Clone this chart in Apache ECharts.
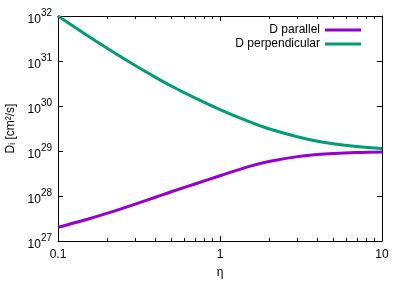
<!DOCTYPE html>
<html>
<head>
<meta charset="utf-8">
<script src="https://cdn.jsdelivr.net/npm/echarts@6/dist/echarts.min.js"></script>
<style>html,body{margin:0;padding:0;background:#fff;}#chart{width:407px;height:285px;}</style>
</head>
<body>
<div id="chart"></div>
<script>
const etaValues = [0.1, 0.15, 0.2, 0.3, 0.4, 0.5, 0.7, 1, 1.5, 2, 3, 4, 5, 7, 10];
const dParallel = [2.01e27, 3.01e27, 4.10e27, 6.61e27, 9.40e27, 1.24e28, 1.85e28, 2.82e28, 4.50e28, 5.83e28, 7.50e28, 8.38e28, 8.83e28, 9.25e28, 9.51e28];
const dPerpendicular = [1.0e32, 3.79e31, 1.95e31, 7.91e30, 4.33e30, 2.78e30, 1.51e30, 8.32e29, 4.53e29, 3.12e29, 2.08e29, 1.65e29, 1.45e29, 1.26e29, 1.13e29];
const seriesNames = ['D parallel', 'D perpendicular'];
const xMinorTicks = [0.2, 0.3, 0.4, 0.5, 0.6, 0.7, 0.8, 0.9, 2, 3, 4, 5, 6, 7, 8, 9];
const xMin = 0.1, xMax = 10, yMin = 1e27, yMax = 1e32;

const FONT = 'Liberation Sans, Arial, sans-serif';
const chart = echarts.init(document.getElementById('chart'), null, {renderer: 'canvas'});

function pairs(ys) { return etaValues.map((x, i) => [x, ys[i]]); }

const baseX = {
  type: 'log', logBase: 10, min: xMin, max: xMax,
  splitLine: {show: false}
};
// helper axis in decades (log10 space) used only to place the minor ticks 2..9
const minorX = {
  type: 'value', min: Math.log10(xMin), max: Math.log10(xMax),
  splitLine: {show: false}, axisLine: {show: false, onZero: false}, axisLabel: {show: false},
  axisTick: {show: true, inside: true, length: 3, lineStyle: {color: '#000'},
    customValues: xMinorTicks.map(v => Math.log10(v))}
};
const baseY = {
  type: 'log', logBase: 10, min: yMin, max: yMax,
  splitLine: {show: false}
};

const option = {
  animation: false,
  backgroundColor: '#fff',
  grid: {left: 58, right: 25, top: 16, bottom: 44, outerBoundsMode: 'none'},
  legend: [
    {data: [seriesNames[0]], right: 41, top: 19, orient: 'vertical', align: 'right',
     icon: 'rect', itemWidth: 36, itemHeight: 3, itemGap: 0,
     textStyle: {fontFamily: FONT, fontSize: 12, color: '#000'}},
    {data: [seriesNames[1]], right: 41, top: 33, orient: 'vertical', align: 'right',
     icon: 'rect', itemWidth: 36, itemHeight: 3, itemGap: 0,
     textStyle: {fontFamily: FONT, fontSize: 12, color: '#000'}}
  ],
  xAxis: [
    Object.assign({}, baseX, {
      position: 'bottom',
      name: 'η', nameLocation: 'middle', nameGap: 26,
      nameTextStyle: {fontFamily: FONT, fontSize: 12, color: '#000'},
      axisLine: {show: true, onZero: false, lineStyle: {color: '#000', width: 1}},
      axisTick: {show: true, inside: true, length: 5, lineStyle: {color: '#000'}},
      axisLabel: {show: true, margin: 8, fontFamily: FONT, fontSize: 12, color: '#000',
        formatter: v => String(+v.toPrecision(3))}
    }),
    Object.assign({}, minorX, {position: 'bottom'}),
    Object.assign({}, baseX, {
      position: 'top',
      axisLine: {show: true, onZero: false, lineStyle: {color: '#000', width: 1}},
      axisTick: {show: true, inside: true, length: 5, lineStyle: {color: '#000'}},
      axisLabel: {show: false}
    }),
    Object.assign({}, minorX, {position: 'top'})
  ],
  yAxis: [
    Object.assign({}, baseY, {
      position: 'left',
      name: 'Dᵢ [cm²/s]', nameLocation: 'middle', nameGap: 40, nameRotate: 90,
      nameTextStyle: {fontFamily: FONT, fontSize: 12, color: '#000'},
      axisLine: {show: true, onZero: false, lineStyle: {color: '#000', width: 1}},
      axisTick: {show: true, inside: true, length: 5, lineStyle: {color: '#000'}},
      axisLabel: {show: true, margin: 6, fontFamily: FONT, color: '#000',
        formatter: v => '{a|10}{b|' + Math.round(Math.log10(v)) + '}',
        rich: {
          a: {fontFamily: FONT, fontSize: 12, color: '#000', lineHeight: 20, verticalAlign: 'bottom'},
          b: {fontFamily: FONT, fontSize: 10, color: '#000', lineHeight: 20, verticalAlign: 'top', padding: [2, 0, 0, 0]}
        }
      }
    }),
    Object.assign({}, baseY, {
      position: 'right',
      axisLine: {show: true, onZero: false, lineStyle: {color: '#000', width: 1}},
      axisTick: {show: true, inside: true, length: 5, lineStyle: {color: '#000'}},
      axisLabel: {show: false}
    })
  ],
  series: [
    {name: seriesNames[0], type: 'line', xAxisIndex: 0, yAxisIndex: 0, data: pairs(dParallel),
     smooth: 0.4, showSymbol: false, symbol: 'none', color: '#9400D3',
     lineStyle: {width: 3, color: '#9400D3'}},
    {name: seriesNames[1], type: 'line', xAxisIndex: 0, yAxisIndex: 0, data: pairs(dPerpendicular),
     smooth: 0.4, showSymbol: false, symbol: 'none', color: '#009E73',
     lineStyle: {width: 3, color: '#009E73'}}
  ]
};
chart.setOption(option);
</script>
</body>
</html>
